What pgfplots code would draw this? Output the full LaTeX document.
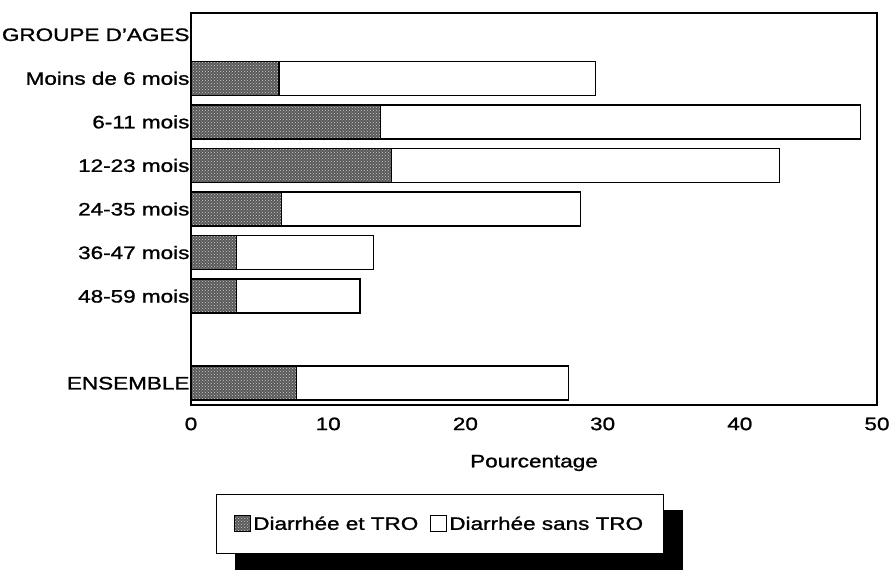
\documentclass[border=0pt]{standalone}
\usepackage{fontspec}
\setmainfont{Liberation Sans}[FakeStretch=1.25,FakeBold=1.2]
\usepackage{pgfplots}
\pgfplotsset{compat=1.18}
\usetikzlibrary{patterns,backgrounds}
\begin{document}
\begin{tikzpicture}[x=1pt,y=1pt]
\useasboundingbox (0,0) rectangle (889,574);
\begin{axis}[
  at={(191pt,169pt)}, anchor=south west,
  width=686pt, height=392pt, scale only axis,
  xbar stacked, bar width=34pt,
  xmin=0, xmax=50, ymin=0.5, ymax=9.5,
  xtick={0,10,20,30,40,50},
  ytick={1,3,4,5,6,7,8,9},
  yticklabels={ENSEMBLE,48-59 mois,36-47 mois,24-35 mois,12-23 mois,6-11 mois,Moins de 6 mois,GROUPE D'AGES},
  major tick length=0pt,
  axis line style={line width=1.8pt},
  /pgf/number format/assume math mode=true,
  tick label style={font=\fontsize{18}{20}\selectfont},
  xticklabel style={yshift=-9pt},
  yticklabel style={xshift=2pt},
  xlabel={Pourcentage},
  xlabel style={font=\fontsize{18}{20}\selectfont, at={(axis description cs:0.5,-0.148)}, anchor=center},
  legend columns=2,
  legend style={name=leg, at={(axis description cs:0.036,-0.227)}, anchor=north west,
    draw=black, line width=1.2pt, fill=white,
    font=\fontsize{18}{20}\selectfont, inner xsep=18pt, inner ysep=20pt,
    /tikz/every even column/.append style={column sep=10pt}},
  legend image code/.code={\draw[#1,line width=1pt] (0pt,-8pt) rectangle (16pt,8pt);},
]
\addplot[draw=black, line width=1.5pt, fill=black!65, postaction={pattern=crosshatch dots, pattern color=white!80!black}]
  coordinates {(7.7,1) (3.3,3) (3.3,4) (6.6,5) (14.6,6) (13.8,7) (6.4,8)};
\addplot[draw=black, line width=1.5pt, fill=white]
  coordinates {(19.8,1) (9.0,3) (10.0,4) (21.8,5) (28.3,6) (35.0,7) (23.1,8)};
\legend{Diarrhée et TRO,Diarrhée sans TRO}
\end{axis}
\begin{scope}[on background layer]
\fill[black] ([shift={(19pt,-16pt)}]leg.south west) rectangle ([shift={(19pt,-16pt)}]leg.north east);
\end{scope}
\end{tikzpicture}
\end{document}
